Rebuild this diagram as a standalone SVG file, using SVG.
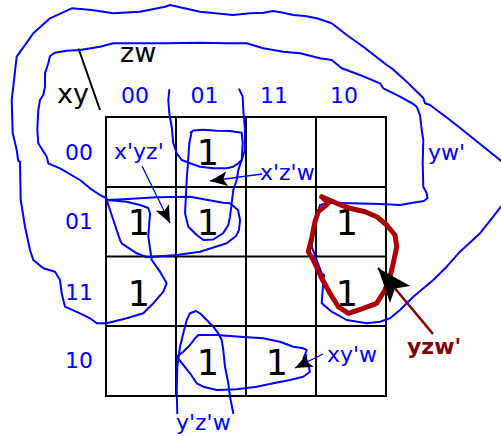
<svg xmlns="http://www.w3.org/2000/svg" width="501" height="436" viewBox="0 0 501 436">
<defs>
<style>
.grid{fill:none;stroke:#000;stroke-width:2}
.loop{fill:none;stroke:#0000ff;stroke-width:2;stroke-linejoin:round;stroke-linecap:round}
.red{fill:none;stroke:#aa0000;stroke-width:5;stroke-linejoin:round;stroke-linecap:round}
.hdr{font-family:"DejaVu Sans",sans-serif;font-size:27px;fill:#000}
.idx{font-family:"DejaVu Sans",sans-serif;font-size:22px;fill:#0000ff;text-anchor:middle}
.one{font-family:"DejaVu Sans",sans-serif;font-size:35px;fill:#000;text-anchor:middle}
.lbl{font-family:"DejaVu Sans",sans-serif;font-size:22px;fill:#0000ff}
.rlbl{font-family:"DejaVu Sans",sans-serif;font-size:22px;font-weight:bold;fill:#800000}
.ptr{fill:none;stroke:#0000ff;stroke-width:1.3}
</style>
<marker id="ah" markerUnits="userSpaceOnUse" markerWidth="20" markerHeight="20" viewBox="-14 -7 15 14" refX="0" refY="0" orient="auto">
<path d="M0,0 L-13,-5.5 L-10,0 L-13,5.5 Z" fill="#000"/>
</marker>
<marker id="ahBig" markerUnits="userSpaceOnUse" markerWidth="40" markerHeight="30" viewBox="-32 -13 33 26" refX="0" refY="0" orient="auto">
<path d="M0,0 L-30,-11.5 L-23,0 L-30,11.5 Z" fill="#000"/>
</marker>
</defs>
<rect width="501" height="436" fill="#fff"/>

<g id="kmap-grid">
<rect class="grid" x="106" y="117" width="280" height="279"/>
<path class="grid" d="M176,117V396M246,117V396M316,117V396M106,187H386M106,256.5H386M106,326H386"/>
<line class="grid" x1="78.5" y1="48.5" x2="100" y2="110"/>
</g>

<g id="headers">
<text class="hdr" x="120" y="62">zw</text>
<text class="hdr" x="57" y="103">xy</text>
<text class="idx" x="135" y="103">00</text>
<text class="idx" x="204.5" y="103">01</text>
<text class="idx" x="274" y="103">11</text>
<text class="idx" x="344" y="103">10</text>
<text class="idx" x="79" y="160">00</text>
<text class="idx" x="79" y="229">01</text>
<text class="idx" x="79" y="300">11</text>
<text class="idx" x="79" y="368">10</text>
</g>

<g id="cells">
<text class="one" x="208" y="165">1</text>
<text class="one" x="139" y="235">1</text>
<text class="one" x="208" y="235">1</text>
<text class="one" x="347" y="235">1</text>
<text class="one" x="139" y="306">1</text>
<text class="one" x="347" y="306">1</text>
<text class="one" x="208" y="375">1</text>
<text class="one" x="277" y="375">1</text>
</g>

<g id="loops">
<path id="loop-yw" class="loop" d="M106.7,198.3 L100,195 L90,188.3 L80,180 L60,168.3 L48.3,163.3 L46.7,156.7 L38.3,143.3 L37.3,130 L38.3,110 L40,100 L43.3,95 L45,86.7 L45,73.3 L48.3,63.3 L50,56 L55,52.7 L66.7,50.7 L80,50 L100,46.7 L113.3,43.3 L133.3,43.3 L166.7,43.3 L200,42.7 L226.7,43.3 L246.7,43.3 L263.3,48.3 L283.3,51.7 L300,53.3 L320,58.3 L331.7,60 L341.7,68.3 L360,75 L380,83.3 L383.3,88.3 L400,96.7 L413.3,104 L416.7,106.7 L420,115 L421.7,130 L423.3,140 L422.7,163.3 L423.3,186.7 L426.7,193.3 L427.5,198 L424,201 L410,203.3 L400,205 L380,204 L350,203.3 L330,202.7 L320,205 L315,221.7 L311.7,246.7 L316.7,260 L321.7,273.3 L324,275 L322.7,290 L321.7,303.3 L331.7,311.7 L346.7,320 L366.7,323.3 L380,321.7 L390,318.3 L400,310 L413.3,296.7 L433.3,280 L446.7,266.7 L460,251.7 L480,233.3 L501,206.7 L512,195 L512,170 L500,160 L466.7,133.3 L450,120 L430,105 L425,103.3 L423.3,98 L406.7,81.7 L391.7,68.3 L386.7,65 L363.3,46.7 L346.7,35 L331.7,23.3 L316.7,18.3 L305,16 L293.3,15 L283.3,12.7 L273.3,11 L263.3,12.7 L250,13.3 L233,15 L200,11.7 L170,5 L165,6.7 L140,11.7 L113.3,13.3 L91.7,10 L71.7,8.3 L50,18.3 L33.3,33.3 L16.7,56.7 L11.7,100 L12.7,133 L16.7,150 L18.3,161 L20,161.7 L20.7,200 L25,226.7 L30,250 L33.3,260 L43.3,268.3 L55,271.7 L60,280 L61.7,293.3 L65,306.7 L80,313.3 L90,318.3 L96.7,323.3 L106.7,323.3 L126.7,318.3 L143.3,313.3 L153.3,303.3 L163.3,291.7 L166.7,283.3 L160,271.7 L151.7,260 L148.3,236.7 L150,213.3 L148.3,208 L140,205 L126.7,201.7 L106.7,200"/>
<path id="loop-xpyzp" class="loop" d="M106.7,200 L123.3,199.3 L156.7,197.3 L190,196.7 L223.3,202.7 L230,203.3 L238,210 L240,220 L239,230 L236,236 L226.7,243.3 L200,251.7 L176.7,255 L146.7,257.3 L136.7,253.3 L121.7,243.3 L120,240 L106.7,200"/>
<path id="loop-xpzpw" class="loop" d="M191.7,131.7 L189.3,143.3 L188.3,158.3 L186.7,180 L185.7,200 L185,213.3 L188.3,226.7 L196.7,235 L203.3,240 L213.3,239.5 L223.3,233 L228.3,225 L230,216.7 L231.7,203.3 L233.3,190 L236.7,180 L238.3,170 L241.7,160 L242.7,143.3 L241.7,132.7 L230,131 L216.7,130.7 L203.3,129.7 L193.3,130.5 L190.5,132.5"/>
<path id="loop-ypzpw-top" class="loop" d="M169.3,90 L168.3,100 L169.3,113.3 L171.7,126.7 L173.3,143.3 L176.7,153.3 L181.7,160 L190,163.3 L200,166.7 L213.3,168.3 L226.7,168.3 L233.3,166.7 L238.3,163.3 L241.7,160 L245,150 L245,130 L243.3,110 L242.7,96.7 L239.3,89.3"/>
<path id="loop-ypzpw-bottom" class="loop" d="M177.3,413.3 L176.7,390 L177.3,366.7 L180,346.7 L183.3,333.3 L186.7,320 L190,313.3 L196,311 L200,313.3 L206.7,320 L213.3,326.7 L218.3,333.3 L221.7,340 L223.3,350 L225,366.7 L228.3,383.3 L230,396.7 L233.3,413.3"/>
<path id="loop-xypw" class="loop" d="M176.7,356.7 L183.3,351.7 L190,345 L195,338.3 L196.7,336.7 L198.3,335 L216.7,335 L240,336.7 L263.3,338.3 L280,341.7 L293.3,346.7 L303.3,348.3 L306.7,350 L305,355 L303.3,358.3 L306.7,360 L308.3,365 L310,371.7 L303.3,376.7 L290,380 L273.3,383.3 L256.7,386.7 L236.7,389.3 L216.7,390 L203.3,386.7 L196.7,383.3 L190,373.3 L183.3,365 L176.7,356.7"/>
<path id="loop-yzwp" class="red" d="M321.7,196.7 L336.7,203.3 L350,208.3 L365,211.7 L376.7,216.7 L386.7,225 L395,235 L396.7,246.7 L393.3,263.3 L390,276.7 L385,290 L376.7,303.3 L363.3,308.3 L348.3,313.3 L338.3,306.7 L330,293.3 L321.7,278.3 L313.3,260 L308.3,251.7 L311.7,238.3 L315,221.7 L318.3,211.7 L328.3,203.3 L321.7,196.7"/>
</g>

<g id="connectors">
<line class="ptr" x1="142" y1="166" x2="170" y2="223" marker-end="url(#ah)"/>
<line class="ptr" x1="262" y1="174" x2="210" y2="181" marker-end="url(#ah)"/>
<line class="ptr" x1="323" y1="354" x2="295" y2="368" marker-end="url(#ah)"/>
<line x1="433" y1="334" x2="378" y2="268" stroke="#800000" stroke-width="2.5" marker-end="url(#ahBig)"/>
</g>

<g id="labels">
<text class="lbl" x="114" y="159">x'yz'</text>
<text class="lbl" x="260" y="180">x'z'w</text>
<text class="lbl" x="428" y="160">yw'</text>
<text class="lbl" x="327" y="362">xy'w</text>
<text class="lbl" x="176" y="430">y'z'w</text>
<text class="rlbl" x="407" y="354">yzw'</text>
</g>
</svg>
